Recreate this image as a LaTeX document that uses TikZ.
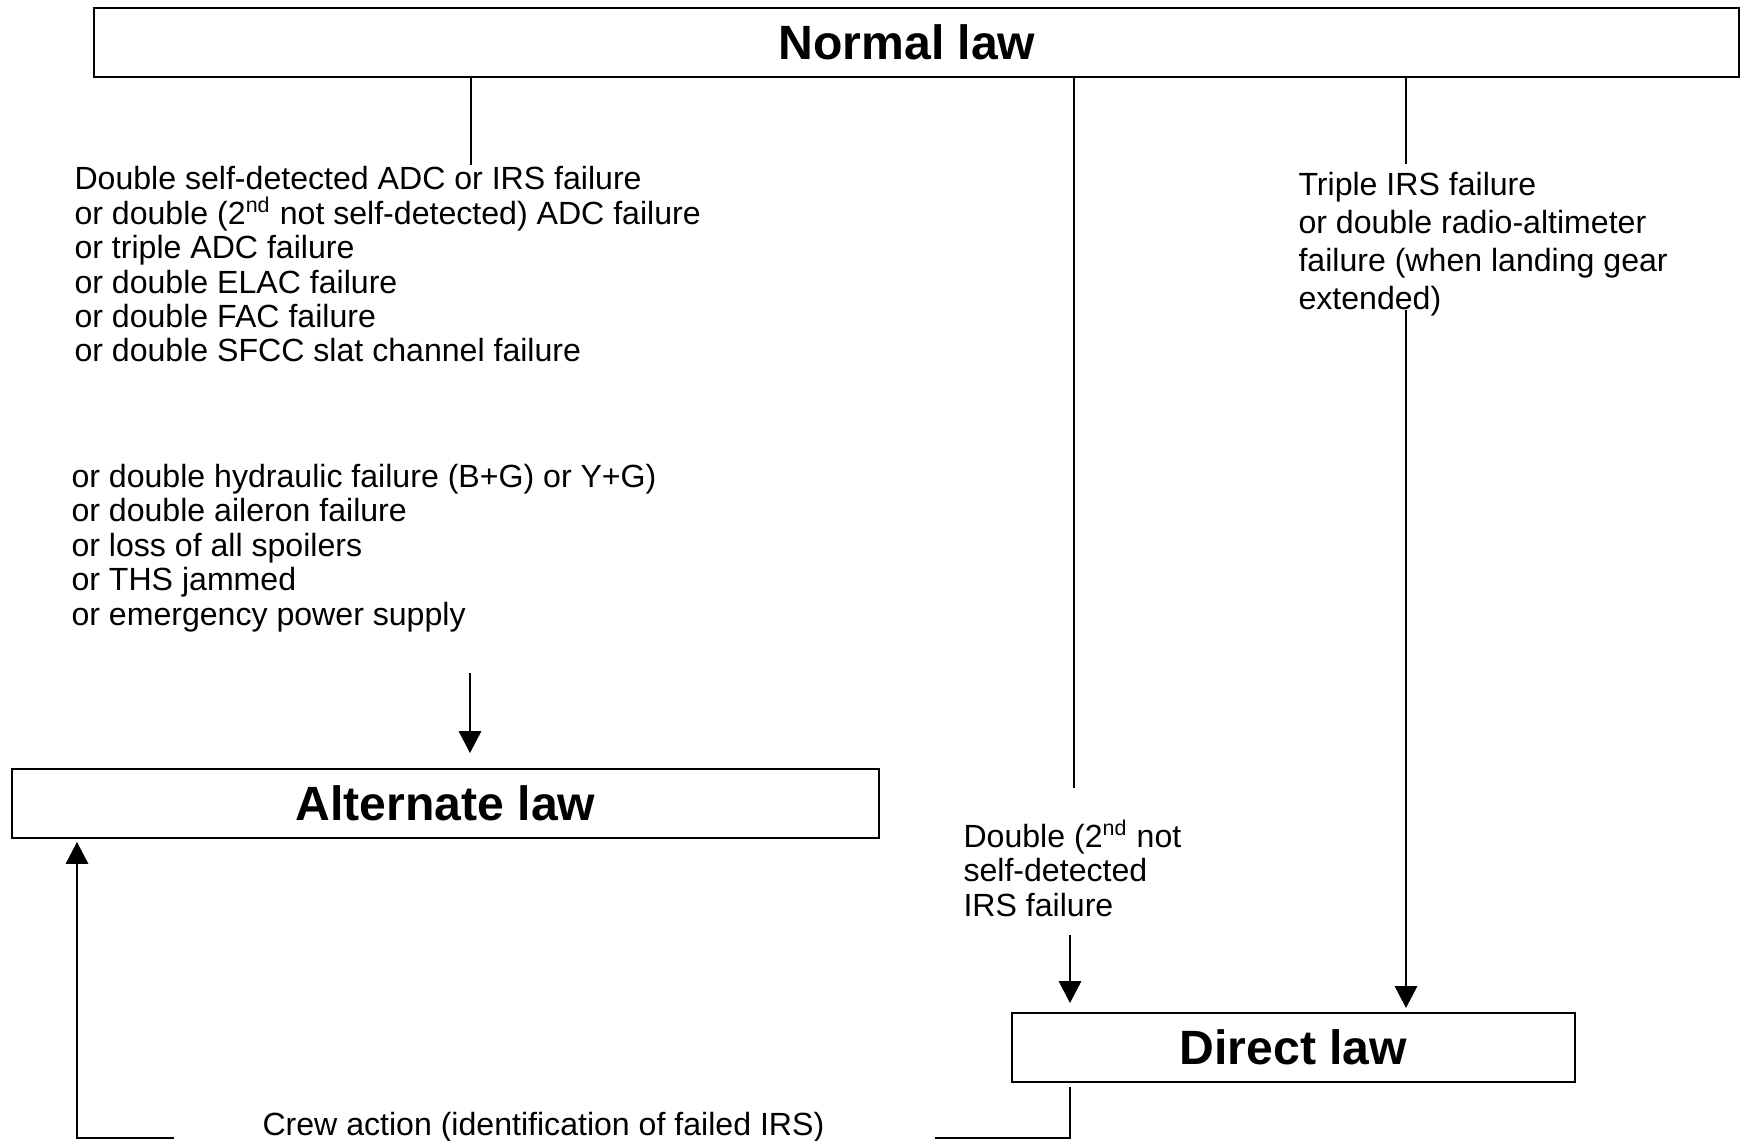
\documentclass[tikz,border=0pt]{standalone}
\usepackage{fontspec}
\setmainfont{Liberation Sans}
\usetikzlibrary{arrows.meta}
\newcommand{\pxu}{0.374pt}

\begin{document}
\begin{tikzpicture}[x=0.374pt, y=-0.374pt,
	lawbox/.style={draw, rectangle, line width=0.8pt, inner sep=0pt, font=\fontsize{18}{20}\selectfont\bfseries},
	cond/.style={anchor=base west, align=left, inner sep=0pt, font=\fontsize{12}{12.9}\selectfont},
	conn/.style={line width=0.6pt},
	arr/.style={conn, -{Triangle[length=8.2pt, width=8.4pt]}}]
	\useasboundingbox (0,0) rectangle (1741,1141);

	\node[lawbox, minimum width=1645*\pxu, minimum height=69*\pxu] (normal) at (916.5,42.5) {};
	\node[font=\fontsize{18}{20}\selectfont\bfseries, inner sep=0pt] (normaltxt) at (907,42.5) {Normal law};
	\node[lawbox, minimum width=867*\pxu, minimum height=69*\pxu] (alternate) at (445.5,803.5) {Alternate law};
	\node[lawbox, minimum width=563*\pxu, minimum height=69*\pxu] (direct) at (1293.5,1047.5) {Direct law};

	% base anchor = baseline of the last line
	\node[cond] (fail1) at (74,362) {Double self-detected ADC or IRS failure\\or double (2\textsuperscript{nd} not self-detected) ADC failure\\or triple ADC failure\\or double ELAC failure\\or double FAC failure\\or double SFCC slat channel failure};
	\node[cond] (fail2) at (71,625) {or double hydraulic failure (B+G) or Y+G)\\or double aileron failure\\or loss of all spoilers\\or THS jammed\\or emergency power supply};
	\node[cond, font=\fontsize{12}{14.3}\selectfont] (fail3) at (1298,310) {Triple IRS failure\\or double radio-altimeter\\failure (when landing gear\\extended)};
	\node[cond] (fail4) at (963,916) {Double (2\textsuperscript{nd} not\\self-detected\\IRS failure};
	\node[cond] (crew) at (262,1135) {Crew action (identification of failed IRS)};

	\coordinate (a1) at (471,165);
	\coordinate (a2) at (470,673);
	\coordinate (a3) at (470,753);
	\coordinate (b1) at (1074,788);
	\coordinate (b2) at (1070,935);
	\coordinate (b3) at (1070,1003);
	\coordinate (c1) at (1406,164);
	\coordinate (c2) at (1406,310);
	\coordinate (c3) at (1406,1008);
	\coordinate (d1) at (1070,1087);
	\coordinate (d2) at (935,1138);
	\coordinate (e1) at (174,1138);
	\coordinate (e2) at (77,842);

	\draw[conn] (normal.south -| a1) -- (a1);
	\draw[arr] (a2) -- (a3);
	\draw[conn] (normal.south -| b1) -- (b1);
	\draw[arr] (b2) -- (b3);
	\draw[conn] (normal.south -| c1) -- (c1);
	\draw[arr] (c2) -- (c3);
	\draw[conn] (d1) |- (d2);
	\draw[arr] (e1) -| (e2);
\end{tikzpicture}
\end{document}
